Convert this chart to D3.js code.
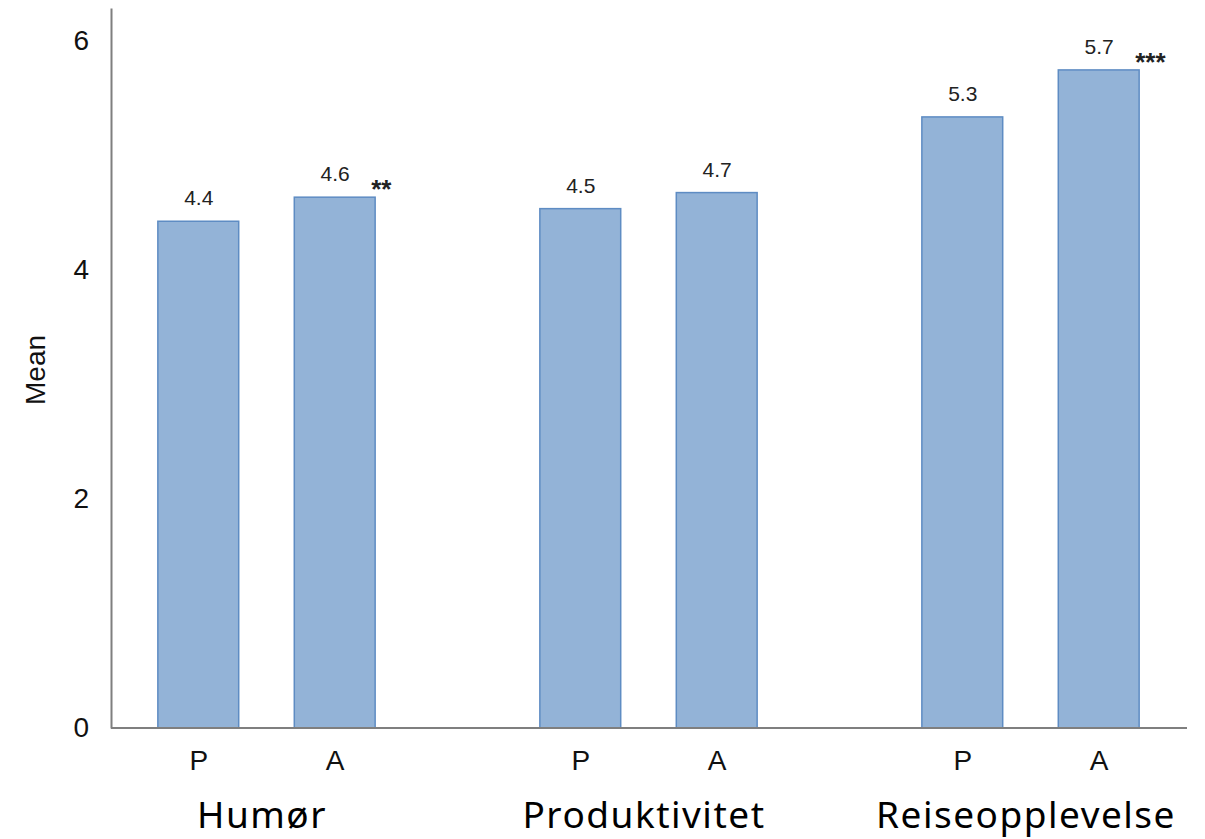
<!DOCTYPE html>
<html>
<head>
<meta charset="utf-8">
<script src="https://cdn.jsdelivr.net/npm/d3@7"></script>
<style>
  html, body { margin: 0; padding: 0; background: #fff; }
  svg { display: block; }
</style>
</head>
<body>
<svg id="chart" width="1205" height="839"></svg>
<script>
// ---- data ----
const categories = ["Humør", "Produktivitet", "Reiseopplevelse"];
const groups = ["P", "A"];
const meansP = [4.42, 4.53, 5.33];
const meansA = [4.63, 4.67, 5.74];
const sigP = ["", "", ""];
const sigA = ["**", "", "***"];
const yTicks = [0, 2, 4, 6];

const rows = [];
categories.forEach((c, i) => {
  rows.push({ cat: c, grp: "P", value: meansP[i], sig: sigP[i] });
  rows.push({ cat: c, grp: "A", value: meansA[i], sig: sigA[i] });
});

// ---- layout ----
const svg = d3.select("#chart");
const axisX = 111, axisBottom = 728, axisTop = 8, axisRight = 1187;

const y = d3.scaleLinear().domain([0, 6.28]).range([axisBottom, axisTop]);
const x0 = d3.scaleBand().domain(categories).range([76, 76 + 3 * 382]).paddingInner(0).paddingOuter(0);
const x1 = d3.scaleBand().domain(groups).range([0, x0.bandwidth()]).paddingInner(0.4).paddingOuter(0.6);

const fontArial = "Liberation Sans, Arial, sans-serif";

// bars
const bars = svg.append("g");
bars.selectAll("rect").data(rows).join("rect")
  .attr("x", d => x0(d.cat) + x1(d.grp))
  .attr("y", d => y(d.value))
  .attr("width", x1.bandwidth() - 1)
  .attr("height", d => y(0) - y(d.value))
  .attr("fill", "#93b3d7")
  .attr("stroke", "#5e8cc3")
  .attr("stroke-width", 1.5);

// value labels
svg.append("g").selectAll("text").data(rows).join("text")
  .attr("x", d => x0(d.cat) + x1(d.grp) + x1.bandwidth() / 2)
  .attr("y", d => y(d.value) - 16)
  .attr("text-anchor", "middle")
  .attr("font-family", fontArial)
  .attr("font-size", 21)
  .attr("fill", "#222")
  .text(d => d3.format(".1f")(d.value));

// significance
svg.append("g").selectAll("text").data(rows.filter(d => d.sig)).join("text")
  .attr("x", d => x0(d.cat) + x1(d.grp) + x1.bandwidth() - 5)
  .attr("y", d => y(d.value) + 1)
  .attr("text-anchor", "start")
  .attr("font-family", fontArial)
  .attr("font-weight", "bold")
  .attr("font-size", 26)
  .attr("fill", "#222")
  .text(d => d.sig);

// y axis
const yAxis = d3.axisLeft(y).tickValues(yTicks).tickSize(0).tickPadding(22).tickFormat(d3.format("d"));
const gy = svg.append("g").attr("transform", `translate(${axisX},0)`).call(yAxis);
gy.select(".domain").attr("stroke", "#7f7f7f").attr("stroke-width", 2);
gy.selectAll("text").attr("font-family", fontArial).attr("font-size", 28).attr("fill", "#111");

// x axis line
svg.append("line")
  .attr("x1", axisX).attr("x2", axisRight)
  .attr("y1", y(0)).attr("y2", y(0))
  .attr("stroke", "#7f7f7f").attr("stroke-width", 2);

// group labels P / A
svg.append("g").selectAll("text").data(rows).join("text")
  .attr("x", d => x0(d.cat) + x1(d.grp) + x1.bandwidth() / 2)
  .attr("y", 770)
  .attr("text-anchor", "middle")
  .attr("font-family", fontArial)
  .attr("font-size", 28)
  .attr("fill", "#111")
  .text(d => d.grp);

// category labels
svg.append("g").selectAll("text").data(categories).join("text")
  .attr("x", d => x0(d) + x0.bandwidth() / 2 - 5)
  .attr("y", 828)
  .attr("text-anchor", "middle")
  .attr("font-family", "Noto Sans, sans-serif")
  .attr("font-size", 37)
  .attr("letter-spacing", 1.5)
  .attr("fill", "#000")
  .text(d => d);

// y title
svg.append("text")
  .attr("transform", "translate(45,370) rotate(-90)")
  .attr("text-anchor", "middle")
  .attr("font-family", fontArial)
  .attr("font-size", 28)
  .attr("fill", "#111")
  .text("Mean");
</script>
</body>
</html>
